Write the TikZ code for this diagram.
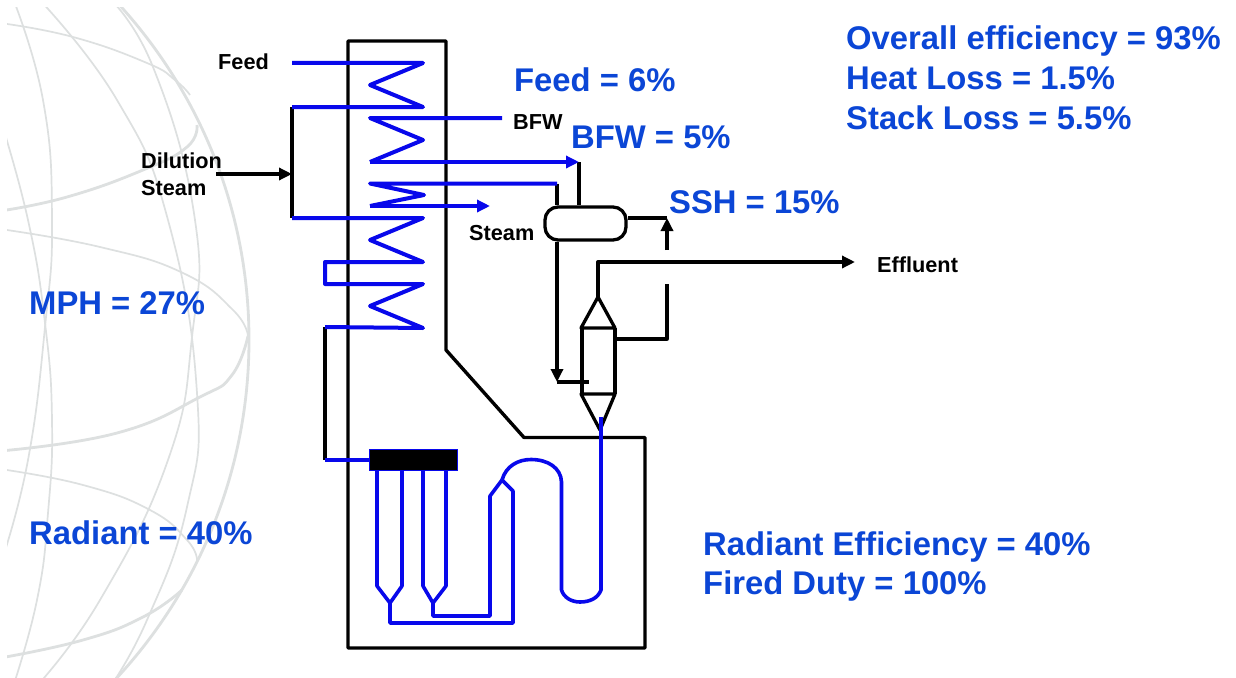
\documentclass[tikz,border=0pt]{standalone}
\usepackage{fontspec}
\setmainfont{Liberation Sans}
\usetikzlibrary{arrows.meta,calc}
\definecolor{globe}{RGB}{221,224,224}
\definecolor{pipe}{RGB}{8,8,235}
\definecolor{lbl}{RGB}{11,70,214}
\tikzset{
  globeline/.style={globe,line width=1.7pt,line join=round},
  globebold/.style={globe,line width=2.8pt,line join=round},
  wall/.style={black,line width=3.4pt,line join=round,line cap=round},
  steel/.style={black,line width=3.3pt,line join=round},
  coil/.style={pipe,line width=4pt,line join=round},
  tube/.style={pipe,line width=3.6pt,line join=round},
  arrowblue/.style={coil,line join=miter,-{Triangle[length=13pt,width=12pt]}},
  arrowblack/.style={steel,-{Triangle[length=13pt,width=12pt]}},
  blue label/.style={anchor=base west,inner sep=0pt,text=lbl,font=\fontsize{32.8}{36}\selectfont\bfseries},
  black label/.style={anchor=base west,inner sep=0pt,text=black,font=\fontsize{21.7}{24}\selectfont\bfseries},
}
\begin{document}
\begin{tikzpicture}[x=1pt,y=-1pt]
\useasboundingbox (0,0) rectangle (1236,677);
\fill[white] (0,0) rectangle (1236,677);
% globe
\begin{scope}
\clip (7,8) rectangle (300,677);
\draw[globebold] (-249,340) circle [radius=498];
\draw[globeline] plot[smooth,tension=.8] coordinates {(105,-6)(153,67)(195,220)(192,337)(168,460)(100,600)(35,688)};
\draw[globeline] plot[smooth,tension=.8] coordinates {(38,-2)(117,100)(168,220)(197,393)(187,507)(147,620)(108,690)};
\draw[globeline] plot[smooth,tension=.8] coordinates {(12,-4)(43,100)(52,220)(45,327)(28,460)(2,560)};
\draw[globeline] plot[smooth,tension=.8] coordinates {(0,118)(28,220)(45,323)(52,420)(48,513)(37,600)(12,690)};
\draw[globeline] plot[smooth,tension=.8] coordinates {(0,23)(73,37)(147,63)(175,80)(190,95)};
\draw[globebold] plot[smooth,tension=.8] coordinates {(0,211)(67,197)(143,170)(187,147)(197,125)};
\draw[globeline] plot[smooth,tension=.8] coordinates {(0,229)(100,247)(183,273)(233,310)(248,336)};
\draw[globebold] plot[smooth,tension=.8] coordinates {(248,336)(232,375)(200,397)(117,433)(0,451)};
\draw[globeline] plot[smooth,tension=.8] coordinates {(0,469)(83,485)(150,510)(187,540)(197,560)};
\draw[globebold] plot[smooth,tension=.8] coordinates {(0,658)(83,640)(143,617)(182,590)};
\end{scope}
% named points
\coordinate (fd) at (292,63);
\coordinate (ds1) at (292,107);
\coordinate (ds2) at (292,218);
\coordinate (dsjoin) at (292,174);
\coordinate (mph1) at (325,327);
\coordinate (mph2) at (325,460);
% furnace wall
\draw[wall] (348,648) -- (348,41) -- (446,41) -- (446,350) -- (524,437.5) -- (645,437.5) -- (645,648) -- cycle;
% black process lines
\node[minimum width=81pt,minimum height=33pt,draw=black,line width=3.3pt,rounded corners=13pt,inner sep=0pt,fill=white] (drum) at (585.5,223.5) {};
\coordinate (bfwend) at (579,162);
\coordinate (econ) at (557,183.5);
\draw[steel] (ds1) -- (ds2);
\draw[steel] (mph1) -- (mph2);
\draw[steel] (bfwend) -- (bfwend |- drum.north);
\draw[steel] (econ) -- (econ |- drum.north);
% exchanger
\coordinate (tla) at (598,297);
\coordinate (tlb) at (600,430);
\draw[steel] (tla) -- (615,328) -- (581,328) -- cycle;
\draw[steel] (582,328) -- (582,394);
\draw[steel] (615,328) -- (615,394);
\draw[steel] (tlb) -- (615,394) -- (581,394) -- cycle;
% drum downcomer and riser
\coordinate (dc) at (557,382);
\coordinate (dcin) at (589,382);
\draw[arrowblack] (econ |- drum.south) -- (dc);
\draw[steel] (dc) -- (dcin);
\coordinate (riser1) at (667,250);
\coordinate (riser0) at (667,218);
\draw[arrowblack] (riser1) -- (riser0);
\draw[steel] (riser0) -- (riser0 -| drum.east);
\draw[steel] (667,284) -- (667,339) -- (614,339);
\coordinate (eff) at (855,262);
\draw[arrowblack] (tla) -- (598,262) -- (eff);
\draw[arrowblack] (216,174) -- (dsjoin);
% convection coils
\draw[coil] (fd) -- (423,63) -- (370,85) -- (423,107) -- (ds1);
\draw[coil] (ds2) -- (423,218) -- (370,240) -- (423,262) -- (325,262) -- (325,284) -- (423,284) -- (370,306) -- (423,328) -- (mph1);
\draw[coil] (502,118) -- (370,118) -- (423,140) -- (370,162);
\draw[arrowblue] (370,162) -- (bfwend);
\draw[coil] (econ) -- (370,183.5) -- (424,195) -- (370,206);
\draw[arrowblue] (370,206) -- (490,206);
% radiant coils
\node[minimum width=88pt,minimum height=21pt,draw=pipe,fill=black,line width=1.6pt,inner sep=0pt] (hdr) at (413.5,460) {};
\draw[coil] (mph2) -- (hdr.west);
\draw[tube] (377,471) -- (377,586) -- (390,603) -- (402,586) -- (402,471);
\draw[tube] (423,471) -- (423,586) -- (433,603) -- (446,586) -- (446,471);
\draw[tube] (390,603) -- (390,623) -- (513,623) -- (513,491) -- (502,480);
\draw[tube] (433,603) -- (433,616) -- (490,616) -- (490,496) -- (502,480);
\draw[tube] (502,480) .. controls (506,466) and (518,459.5) .. (531,459.5) .. controls (548,459.5) and (561,468) .. (561.5,482) -- (561.5,590) .. controls (564,598) and (572,602) .. (580,602) .. controls (590,602) and (598,598) .. (601,590) -- (601,417);
% labels
\node[black label] (t1) at (218,70) {Feed};
\node[black label] (t2) at (513,129) {BFW};
\node[black label] (t3) at (141,168) {Dilution};
\node[black label] (t4) at (141,195) {Steam};
\node[black label] (t5) at (469,240) {Steam};
\node[black label] (t6) at (877,272.5) {Effluent};
\node[blue label] (b1) at (846,50) {Overall efficiency = 93\%};
\node[blue label] (b2) at (846,89) {Heat Loss = 1.5\%};
\node[blue label] (b3) at (846,129) {Stack Loss = 5.5\%};
\node[blue label] (b4) at (514,92) {Feed = 6\%};
\node[blue label] (b5) at (571,148) {BFW = 5\%};
\node[blue label] (b6) at (669,213) {SSH = 15\%};
\node[blue label] (b7) at (29,314) {MPH = 27\%};
\node[blue label] (b8) at (29,544) {Radiant = 40\%};
\node[blue label] (b9) at (703,555.5) {Radiant Efficiency = 40\%};
\node[blue label] (b10) at (703,594.5) {Fired Duty = 100\%};
\end{tikzpicture}
\end{document}
